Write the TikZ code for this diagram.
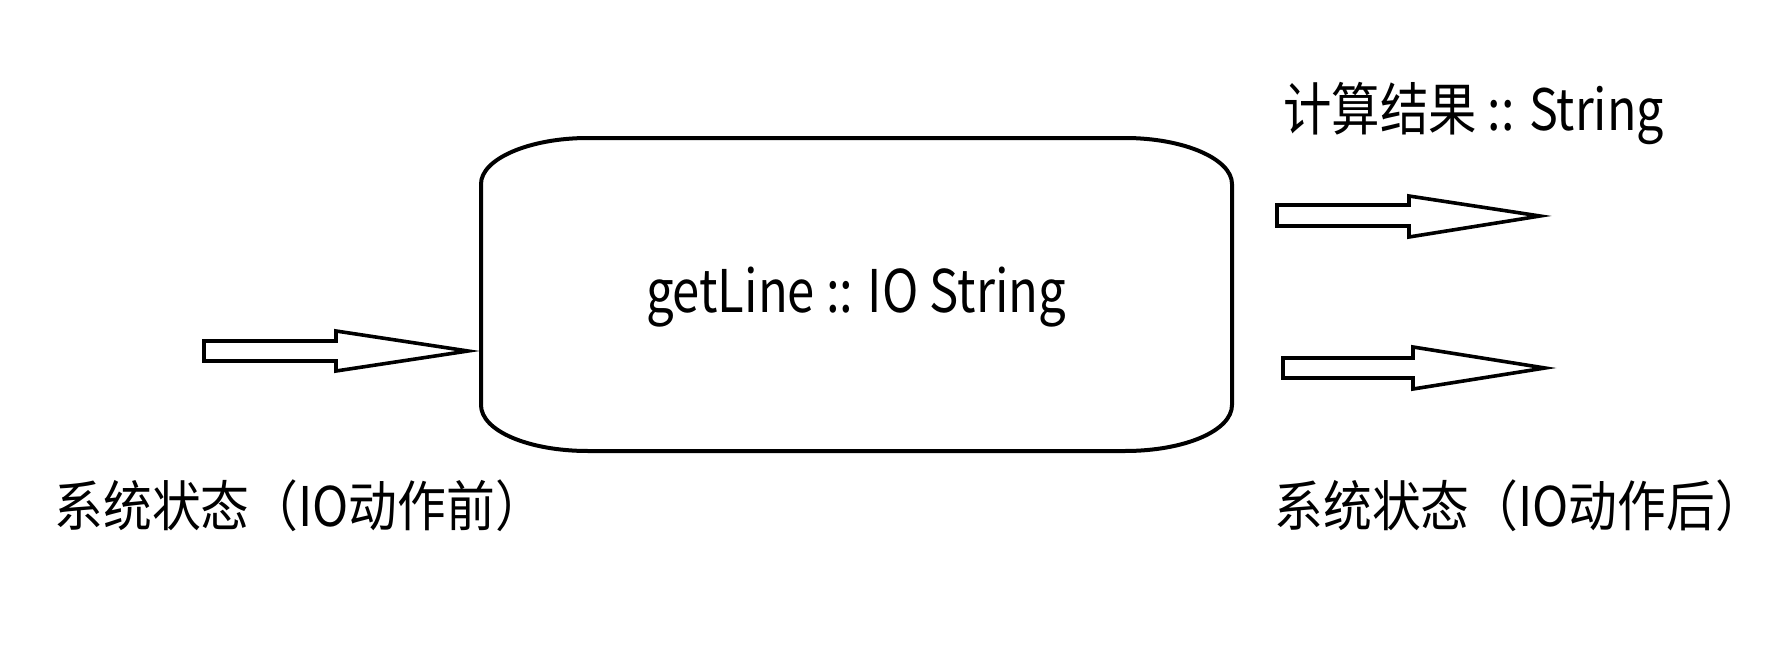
\documentclass[tikz,border=0pt]{standalone}
\usepackage{fontspec}
\setmainfont{Noto Sans CJK SC}
\newcommand{\vstretch}[2]{\scalebox{1}[#1]{#2}}
\begin{document}
\begin{tikzpicture}[x={(0.5pt,0)},y={(0,-0.5pt)},
  outline/.style={draw=black,line width=2pt,line join=round},
  blockarrow/.style={draw=black,line width=1.8pt,line join=miter,fill=white},
  lbl/.style={inner sep=0pt,anchor=base west,font=\fontsize{24.4}{28}\selectfont}]
\useasboundingbox (0,0) rectangle (1769,664);
% main box
\draw[outline] (588,138) -- (1125,138)
  .. controls (1184,138) and (1232,159) .. (1232,184)
  -- (1232,405)
  .. controls (1232,431) and (1184,451) .. (1125,451)
  -- (588,451)
  .. controls (529,451) and (481,431) .. (481,405)
  -- (481,184)
  .. controls (481,159) and (529,138) .. (588,138) -- cycle;
\node[inner sep=0pt,anchor=base,font=\fontsize{24.5}{28}\selectfont] (main) at (856,312) {\vstretch{1.2}{getLine :: IO String}};
% input arrow
\draw[blockarrow] (204,341) -- (336,341) -- (336,331) -- (468,351) -- (336,371) -- (336,361) -- (204,361) -- cycle;
% output arrows
\draw[blockarrow] (1277,205) -- (1409,205) -- (1409,196) -- (1540,216) -- (1409,237) -- (1409,226) -- (1277,226) -- cycle;
\draw[blockarrow] (1283,358) -- (1413,358) -- (1413,347) -- (1545,368) -- (1413,389) -- (1413,378) -- (1283,378) -- cycle;
% labels
\node[lbl,font=\fontsize{24.2}{28}\selectfont] (res) at (1283,130) {\vstretch{1.18}{计算结果 :: String}};
\node[lbl] (before) at (54,526) {\vstretch{1.12}{系统状态（IO动作前）}};
\node[lbl] (after) at (1274,526) {\vstretch{1.12}{系统状态（IO动作后）}};
\end{tikzpicture}
\end{document}
